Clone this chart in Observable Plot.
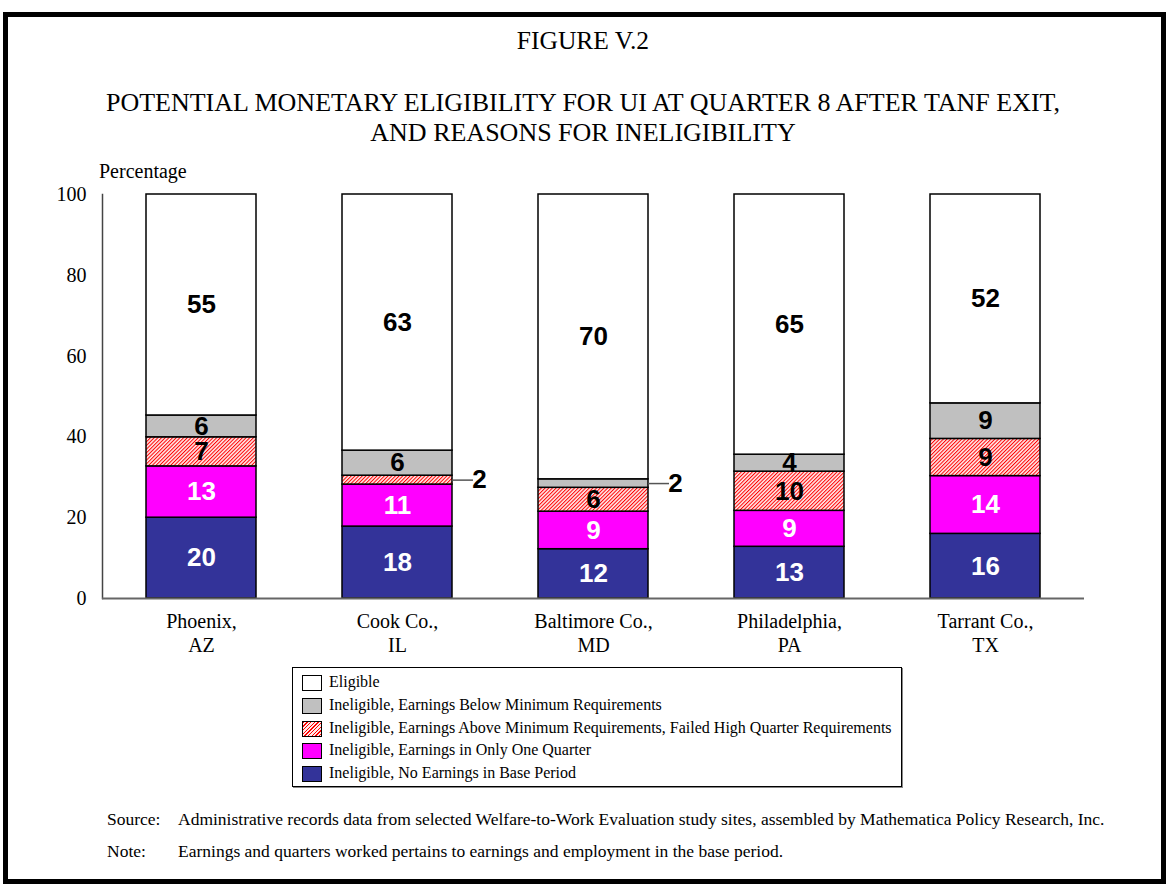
<!DOCTYPE html>
<html>
<head>
<meta charset="utf-8">
<script src="https://cdn.jsdelivr.net/npm/d3@7"></script>
<script src="https://cdn.jsdelivr.net/npm/@observablehq/plot@0.6"></script>
<style>
  html, body { margin: 0; padding: 0; background: #fff; }
  #page { position: relative; width: 1166px; height: 886px; overflow: hidden; font-family: "Liberation Serif", "Times New Roman", serif; color: #000; }
  #border { position: absolute; left: 3px; top: 12px; width: 1153px; height: 862px; border: 5px solid #000; }
  .t { position: absolute; white-space: nowrap; }
  #fig { left: 0; width: 1166px; top: 26px; text-align: center; font-size: 25.5px; line-height: 30px; }
  #sub { left: 0; width: 1166px; top: 88px; text-align: center; font-size: 26px; line-height: 30px; }
  #ylab { left: 99px; top: 160px; font-size: 20px; }
  #chart { position: absolute; left: 0; top: 150px; }
  #legend { position: absolute; left: 292px; top: 667px; width: 608px; height: 118px; border: 1.5px solid #000; box-shadow: 1px 1px 0 #888; }
  .row { position: absolute; left: 0; height: 22px; }
  .sw { position: absolute; left: 9px; width: 18px; height: 14px; border: 1.5px solid #000; }
  .lt { position: absolute; left: 36px; font-size: 16px; white-space: nowrap; line-height: 16px; top: -1px; }
  .note { font-size: 17.5px; line-height: 20px; }
</style>
</head>
<body>
<div id="page">
  <div id="border"></div>
  <div class="t" id="fig">FIGURE V.2</div>
  <div class="t" id="sub">POTENTIAL MONETARY ELIGIBILITY FOR UI AT QUARTER 8 AFTER TANF EXIT,<br>AND REASONS FOR INELIGIBILITY</div>
  <div class="t" id="ylab">Percentage</div>
  <div id="chart"></div>
  <div id="legend"></div>
  <div class="t note" style="left:107px; top:809px;">Source:</div>
  <div class="t note" style="left:178px; top:809px;">Administrative records data from selected Welfare-to-Work Evaluation study sites, assembled by Mathematica Policy Research, Inc.</div>
  <div class="t note" style="left:107px; top:841px;">Note:</div>
  <div class="t note" style="left:178px; top:841px;">Earnings and quarters worked pertains to earnings and employment in the base period.</div>
</div>
<script>
// ---- Data ----
const sites = ["Phoenix,\nAZ", "Cook Co.,\nIL", "Baltimore Co.,\nMD", "Philadelphia,\nPA", "Tarrant Co.,\nTX"];
const seriesNames = [
  "Ineligible, No Earnings in Base Period",
  "Ineligible, Earnings in Only One Quarter",
  "Ineligible, Earnings Above Minimum Requirements, Failed High Quarter Requirements",
  "Ineligible, Earnings Below Minimum Requirements",
  "Eligible"
];
// segment sizes (percent)
const noEarnings  = [20.0, 17.8, 12.2, 12.8, 16.0];
const oneQuarter  = [12.7, 10.4,  9.3,  8.9, 14.3];
const failedHighQ = [ 7.2,  2.2,  5.9,  9.7,  9.2];
const belowMin    = [ 5.4,  6.2,  2.1,  4.2,  8.8];
const eligible    = [54.7, 63.4, 70.5, 64.4, 51.7];
// printed labels
const noEarningsLabels  = [20, 18, 12, 13, 16];
const oneQuarterLabels  = [13, 11,  9,  9, 14];
const failedHighQLabels = [ 7,  2,  6, 10,  9];
const belowMinLabels    = [ 6,  6,  2,  4,  9];
const eligibleLabels    = [55, 63, 70, 65, 52];
// labels drawn outside the bar with a leader line
const outsideLabels = [[sites[1], seriesNames[2]], [sites[2], seriesNames[3]]];
const yTicks = [0, 20, 40, 60, 80, 100];
const colors = ["#333399", "#FF00FF", "url(#hatch)", "#C0C0C0", "#FFFFFF"];
const whiteTextSeries = [seriesNames[0], seriesNames[1]];

const valueArrays = [noEarnings, oneQuarter, failedHighQ, belowMin, eligible];
const labelArrays = [noEarningsLabels, oneQuarterLabels, failedHighQLabels, belowMinLabels, eligibleLabels];
const data = [];
seriesNames.forEach((s, si) => sites.forEach((site, i) => {
  data.push({site, series: s, value: valueArrays[si][i], label: labelArrays[si][i]});
}));
const isOutside = d => outsideLabels.some(([a, b]) => a === d.site && b === d.series);

const stackOpts = extra => Plot.stackY({x: "site", y: "value", z: "series", ...extra});
const labelFont = {fontFamily: "Liberation Sans, Arial, sans-serif", fontWeight: "bold", fontSize: 26};

const chart = Plot.plot({
  width: 1166,
  height: 520,
  marginLeft: 102,
  marginRight: 82,
  marginTop: 44,
  marginBottom: 72,
  style: {fontFamily: "Liberation Serif, Times New Roman, serif", fontSize: "20px", color: "#000", background: "transparent"},
  x: {domain: sites, paddingInner: 0.44, paddingOuter: 0.22, label: null},
  y: {domain: [0, 100], label: null},
  color: {domain: seriesNames, range: colors},
  marks: [
    Plot.barY(data, stackOpts({fill: "series", stroke: "#000", strokeWidth: 1.5})),
    Plot.text(data, Plot.filter(d => whiteTextSeries.includes(d.series), stackOpts({text: "label", fill: "#fff", ...labelFont}))),
    Plot.text(data, Plot.filter(d => !whiteTextSeries.includes(d.series) && !isOutside(d), stackOpts({text: "label", fill: "#000", ...labelFont}))),
    Plot.tickY(data, Plot.filter(isOutside, stackOpts({stroke: "#555", strokeWidth: 1.5, insetLeft: 110, insetRight: -21}))),
    Plot.text(data, Plot.filter(isOutside, stackOpts({text: "label", fill: "#000", dx: 82, ...labelFont}))),
    Plot.frame({anchor: "left", stroke: "#444", strokeWidth: 1.5}),
    Plot.ruleY([0], {stroke: "#666", strokeWidth: 2}),
    Plot.axisY({ticks: yTicks, tickSize: 0, tickPadding: 16, label: null, fontSize: 20}),
    Plot.axisX({tickSize: 0, tickPadding: 12, label: null, fontSize: 20, lineHeight: 1.2})
  ]
});

d3.select(chart).insert("defs", ":first-child").html(
  '<pattern id="hatch" patternUnits="userSpaceOnUse" width="2.6" height="2.6" patternTransform="rotate(45)">' +
  '<rect width="2.6" height="2.6" fill="#ffe8e8"></rect>' +
  '<line x1="0.5" y1="0" x2="0.5" y2="2.6" stroke="#ff0000" stroke-width="1"></line></pattern>'
);
document.getElementById("chart").appendChild(chart);

// Legend (top to bottom: Eligible first)
const legend = d3.select("#legend");
const legendOrder = seriesNames.map((s, i) => ({s, c: colors[i]})).reverse();
legendOrder.forEach((d, i) => {
  const row = legend.append("div").attr("class", "row").style("top", (7 + i * 22.75) + "px").style("width", "600px");
  const sw = row.append("div").attr("class", "sw");
  if (d.c.startsWith("url")) sw.style("background", "repeating-linear-gradient(135deg, #ff0000 0 1px, #ffe8e8 1px 2.6px)");
  else sw.style("background", d.c);
  row.append("div").attr("class", "lt").text(d.s);
});
</script>
</body>
</html>
